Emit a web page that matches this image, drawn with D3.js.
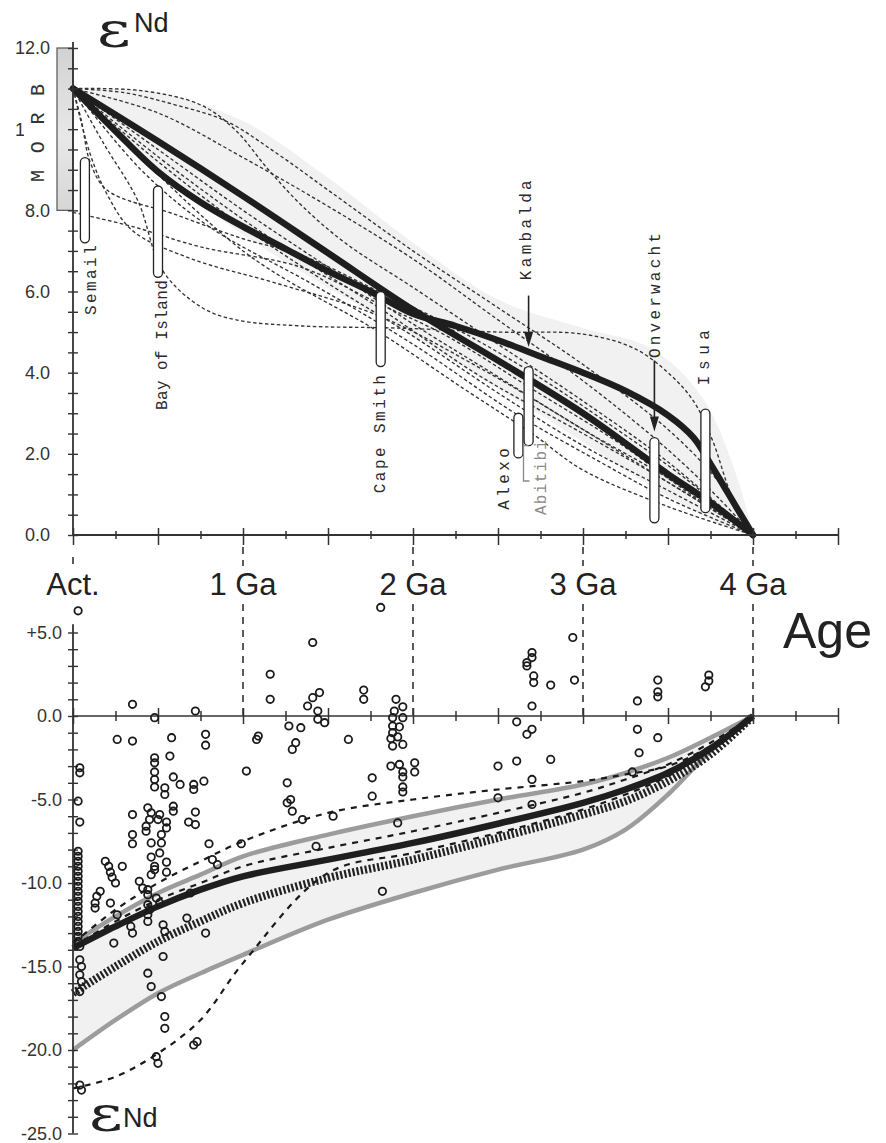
<!DOCTYPE html>
<html>
<head>
<meta charset="utf-8">
<script src="https://cdn.jsdelivr.net/npm/d3@7"></script>
<style>
    body { margin: 0; background: #fff; }
    svg { display: block; }
</style>
</head>
<body>
<script>
(function(){
    // ---- data: age in Ga, epsilon Nd ----
    var ageTicks = d3.range(0, 19).map(function(i){ return i * 0.25; });
    var ageLabels = ["Act.", "1 Ga", "2 Ga", "3 Ga", "4 Ga"];
    var ageLabelAges = [0, 1, 2, 3, 4];
    var topTickLabels = [0, 2, 4, 6, 8, 10, 12];
    var bottomTickLabels = [5, 0, -5, -10, -15, -20, -25];

    // upper panel: depleted mantle evolution curves
    var mantleLinear = [[0,11],[0.5,9.7],[1,8.35],[1.5,6.95],[2,5.55],[2.5,4.3],[3,3.0],[3.5,1.5],[3.75,0.8],[4,0]];
    var mantleCurved = [[0,11],[0.25,9.95],[0.5,8.95],[0.75,8.2],[1,7.6],[1.25,7.05],[1.5,6.5],[1.75,6.0],[2,5.45],[2.25,5.15],[2.5,4.8],[2.75,4.4],[3,4.0],[3.25,3.55],[3.5,2.95],[3.65,2.4],[3.75,1.75],[3.9,0.7],[4,0]];
    var modelCurves = [
        [[0,11],[0.4,10.95],[0.75,10.6],[0.95,10.0],[1.15,9.0],[1.35,8.1],[1.6,7.2],[2,6.1],[2.5,4.7],[3,3.3],[3.5,1.8],[4,0]],
        [[0,11],[0.5,10.4],[1,9.3],[1.5,8.1],[2,6.8],[2.5,5.3],[3,3.8],[3.5,2.1],[3.8,0.9],[4,0]],
        [[0,11],[0.3,10.9],[0.6,10.6],[0.9,10.2],[1.2,9.4],[1.5,8.5],[2,7.0],[2.5,5.6],[3,4.2],[3.5,2.6],[3.8,1.3],[4,0]],
        [[0,11],[0.18,9.65],[0.38,8.25],[0.53,6.5],[0.76,5.6],[0.96,5.3],[1.35,5.15],[1.9,5.1],[2.5,5.0],[3.0,4.95],[3.3,4.6],[3.5,4.0],[3.65,3.3],[3.76,2.35],[3.88,0.9],[4,0]],
        [[0,11],[0.05,10.2],[0.1,9.2],[0.2,8.5],[0.6,7.9],[1,7.3],[1.34,6.9],[1.8,6.0],[2.2,5.2],[2.7,4.0],[3.2,2.6],[3.6,1.4],[4,0]],
        [[0,7.95],[0.35,7.6],[0.75,7.1],[1.34,6.6],[1.8,5.7],[2.2,4.9],[2.7,3.6],[3.2,2.3],[3.6,1.1],[4,0]],
        [[0,11],[0.1,9.4],[0.2,8.4],[0.35,7.5],[0.7,6.8],[1.2,6.2],[1.8,5.4],[2.4,4.1],[3,2.6],[3.5,1.3],[4,0]],
        [[0,11],[0.5,9.5],[1,8.0],[1.5,6.6],[2,5.2],[2.5,3.9],[3,2.6],[3.5,1.4],[4,0]],
        [[0,11],[0.5,9.2],[1,7.6],[1.5,6.2],[2,4.9],[2.5,3.5],[3,2.2],[3.5,1.1],[4,0]],
        [[0,11],[0.6,9.0],[1.2,7.2],[1.8,5.6],[2.4,3.9],[3,2.5],[3.5,1.3],[4,0]],
        [[0,11],[0.4,9.0],[0.8,7.6],[1.4,6.2],[2,4.7],[2.6,3.0],[3.1,1.8],[3.5,0.9],[4,0]],
        [[0,11],[1,7.0],[1.8,5.0],[2.3,3.6],[2.7,2.5],[3.0,1.6],[3.5,0.7],[4,0]]
    ];
    var topShadeAges  = [0, 0.5, 1, 1.5, 2, 2.5, 3, 3.4, 3.7, 3.9, 4];
    var topShadeHigh  = [11, 10.9, 10.2, 8.8, 7.2, 5.8, 5.1, 4.6, 3.4, 1.5, 0];
    var topShadeLow   = [11, 9.0, 7.4, 6.1, 4.9, 3.6, 2.3, 1.2, 0.5, 0.1, 0];

    // komatiite / basalt localities
    var sites    = ["Semail", "Bay of Island", "Cape Smith", "Kambalda", "Alexo", "Onverwacht", "Isua"];
    var siteAges = [0.07, 0.5, 1.81, 2.68, 2.62, 3.42, 3.72];
    var siteMin  = [7.2, 6.35, 4.15, 2.2, 1.9, 0.3, 0.55];
    var siteMax  = [9.3, 8.6, 6.0, 4.15, 3.0, 2.4, 3.1];
    var labelNames = ["Semail", "Bay of Island", "Cape Smith", "Kambalda", "Alexo", "Abitibi", "Onverwacht", "Isua"];
    var labelAges  = [0.11, 0.53, 1.81, 2.67, 2.54, 2.76, 3.43, 3.72];
    var labelFrom  = [5.42, 3.08, 1.03, 6.28, 0.62, 0.49, 4.36, 3.69];
    var labelTo    = [7.14, 6.28, 3.94, 8.74, 2.14, 2.34, 7.44, 5.05];
    var arrowAges  = [2.68, 3.42];
    var arrowFrom  = [5.9, 4.3];
    var arrowTo    = [4.63, 2.55];
    var morbRange  = [8, 12];

    // lower panel: crustal evolution curves
    var crustAges    = [0, 0.25, 0.5, 0.75, 1, 1.5, 2, 2.5, 3, 3.25, 3.5, 3.75, 4];
    var crustMean    = [-13.9, -12.6, -11.4, -10.4, -9.6, -8.6, -7.6, -6.45, -5.2, -4.4, -3.4, -1.95, 0];
    var crustHatched = [-16.6, -15.0, -13.5, -12.3, -11.2, -9.7, -8.6, -7.3, -5.9, -5.1, -3.9, -2.3, 0];
    var crustHigh    = [-13.6, -12.0, -10.6, -9.5, -8.4, -7.1, -6.0, -5.0, -4.1, -3.4, -2.5, -1.3, 0];
    var crustLow     = [-20.0, -18.2, -16.6, -15.4, -14.3, -12.2, -10.6, -9.2, -8.0, -6.8, -4.7, -2.1, 0];
    var dashHigh     = [-13.6, -11.6, -10.0, -8.7, -7.5, -5.8, -5.0, -4.4, -3.9, -3.5, -3.0, -1.8, 0];
    var dashMid      = [-13.8, -12.3, -11.0, -10.0, -9.0, -7.9, -6.9, -5.8, -4.6, -3.8, -2.9, -1.6, 0];
    var dashLow      = [-22.3, -21.6, -20.2, -18.2, -14.8, -9.4, -8.2, -7.0, -5.6, -4.7, -3.6, -2.0, 0];

    var samples = [
        [0.03,6.3],[1.81,6.5],[1.41,4.4],[1.16,2.5],[1.16,1.0],[0.35,0.7],[0.48,-0.1],[0.72,0.3],
        [1.41,1.1],[1.45,1.4],[1.38,0.6],[1.44,0.3],[1.44,-0.2],[1.48,-0.4],[1.71,1.55],[1.71,1.0],
        [1.27,-0.6],[1.34,-0.7],[1.09,-1.2],[1.08,-1.4],[1.31,-1.6],[1.29,-2.0],[1.62,-1.4],[1.02,-3.3],
        [1.26,-4.0],[1.28,-5.0],[1.26,-5.2],[1.29,-5.7],[1.35,-6.2],[1.53,-6.0],[1.43,-7.8],[1.76,-3.7],[1.76,-4.8],[1.91,-6.4],
        [1.9,1.0],[1.94,0.55],[1.89,0.3],[1.94,-0.1],[1.88,-0.1],[1.92,-0.65],[1.88,-0.6],[1.88,-1.0],[1.91,-1.25],[1.87,-1.35],
        [1.94,-1.7],[1.88,-1.8],[1.87,-3.0],[1.92,-2.9],[1.94,-3.35],[1.94,-3.65],[1.94,-4.25],[1.94,-4.55],[2.01,-2.8],[2.01,-3.35],
        [0.26,-1.4],[0.35,-1.5],[0.58,-1.3],[0.78,-1.1],[0.78,-1.75],[0.57,-2.4],[0.48,-2.5],[0.48,-2.8],[0.48,-3.35],[0.48,-3.8],
        [0.48,-4.25],[0.04,-3.1],[0.04,-3.4],[0.59,-3.65],[0.63,-4.1],[0.54,-4.3],[0.54,-4.7],[0.71,-4.1],[0.71,-4.4],[0.77,-3.9],
        [0.03,-5.1],[0.04,-6.35],[0.59,-5.4],[0.59,-5.7],[0.72,-5.75],[0.35,-5.9],[0.44,-5.5],[0.46,-5.8],[0.51,-5.9],[0.45,-6.2],
        [0.43,-6.6],[0.5,-6.2],[0.55,-6.35],[0.55,-6.7],[0.68,-6.35],[0.72,-6.5],[0.43,-6.9],[0.52,-7.1],[0.52,-7.6],[0.35,-7.1],
        [0.35,-7.65],[0.46,-7.6],[0.51,-8.2],[0.46,-8.45],[0.48,-9.0],[0.46,-9.5],[0.55,-8.75],[0.55,-9.35],[0.8,-7.65],[0.99,-7.65],
        [0.03,-8.1],[0.03,-8.4],[0.03,-8.7],[0.03,-9.0],[0.03,-9.3],[0.03,-9.6],[0.03,-9.9],[0.03,-10.2],[0.03,-10.5],[0.03,-10.8],
        [0.03,-11.1],[0.03,-11.4],[0.03,-11.7],[0.03,-12.0],[0.03,-12.3],[0.03,-12.6],[0.03,-12.9],[0.03,-13.2],[0.03,-13.5],[0.04,-13.8],
        [0.04,-14.6],[0.05,-15.0],[0.04,-15.5],[0.05,-15.9],[0.04,-16.5],[0.04,-22.1],[0.05,-22.4],
        [0.19,-8.7],[0.21,-9.0],[0.22,-9.35],[0.23,-9.65],[0.25,-10.0],[0.29,-9.0],[0.82,-8.6],[0.85,-8.9],[0.39,-9.9],[0.41,-10.3],
        [0.14,-10.8],[0.16,-10.5],[0.13,-11.2],[0.13,-11.5],[0.22,-11.2],[0.26,-11.9],[0.44,-10.4],[0.44,-10.7],[0.44,-11.3],[0.45,-11.6],
        [0.44,-11.9],[0.44,-12.3],[0.49,-10.9],[0.51,-11.2],[0.48,-9.2],[0.34,-12.6],[0.35,-13.0],[0.24,-13.6],[0.69,-10.6],[0.53,-12.5],
        [0.54,-12.9],[0.67,-12.1],[0.78,-13.0],[0.53,-14.4],[0.44,-15.4],[0.46,-16.2],[0.52,-16.8],[0.54,-18.0],[0.54,-18.7],[0.49,-20.4],
        [0.5,-20.8],[0.71,-19.7],[0.73,-19.5],[1.82,-10.5],
        [2.94,4.7],[2.7,3.8],[2.7,3.5],[2.67,3.2],[2.67,3.0],[2.71,2.4],[2.71,2.0],[2.81,1.85],[2.95,2.15],[2.7,0.6],
        [2.61,-0.35],[2.7,-0.8],[2.67,-1.1],[2.5,-3.0],[2.61,-2.7],[2.81,-2.6],[2.5,-4.9],[2.7,-3.8],[2.7,-5.3],
        [3.32,0.9],[3.44,2.15],[3.44,1.45],[3.44,1.15],[3.32,-0.8],[3.44,-1.3],[3.33,-2.2],[3.29,-3.35],
        [3.74,2.45],[3.74,2.1],[3.72,1.75]
    ];

    var width = 886, height = 1143;
    var sans = "'Liberation Sans', Arial, sans-serif",
        mono = "'Liberation Mono', 'Courier New', monospace",
        serif = "'DejaVu Serif', 'Liberation Serif', serif";

    var svg = d3.select("body").append("svg")
        .attr("width", width)
        .attr("height", height);

    svg.append("rect").attr("width", width).attr("height", height).attr("fill", "#fff");

    var x = d3.scaleLinear().domain([0, 4.5]).range([73, 838]);
    var yTop = d3.scaleLinear().domain([0, 12]).range([535, 48]);
    var yBot = d3.scaleLinear().domain([0, -25]).range([716, 1133.5]);

    drawTop();
    drawBottom();
    drawAgeLabels();

    function zip(ages, vals){
        return ages.map(function(a, i){ return [a, vals[i]]; });
    }

    function drawTop(){
        var g = svg.append("g");

        var line = d3.line()
            .x(function(d){ return x(d[0]); })
            .y(function(d){ return yTop(d[1]); })
            .curve(d3.curveCatmullRom.alpha(0.5));

        // pale envelope
        var band = d3.area()
            .x(function(d){ return x(d[0]); })
            .y0(function(d){ return yTop(d[1]); })
            .y1(function(d){ return yTop(d[2]); })
            .curve(d3.curveCatmullRom.alpha(0.5));
        g.append("path")
            .datum(topShadeAges.map(function(a, i){ return [a, topShadeLow[i], topShadeHigh[i]]; }))
            .attr("d", band)
            .attr("fill", "#f1f1f1");

        // MORB range
        var grad = svg.append("defs").append("linearGradient")
            .attr("id", "morbGrad").attr("x1", 0).attr("x2", 0).attr("y1", 0).attr("y2", 1);
        grad.append("stop").attr("offset", "0%").attr("stop-color", "#d2d2d2");
        grad.append("stop").attr("offset", "55%").attr("stop-color", "#e8e8e8");
        grad.append("stop").attr("offset", "100%").attr("stop-color", "#d6d6d6");

        g.append("rect")
            .attr("x", x(0) - 16)
            .attr("y", yTop(morbRange[1]))
            .attr("width", 16)
            .attr("height", yTop(morbRange[0]) - yTop(morbRange[1]))
            .attr("fill", "url(#morbGrad)")
            .attr("stroke", "#555")
            .attr("stroke-width", 1.2);

        // model curves
        g.selectAll(".model")
            .data(modelCurves)
            .enter()
            .append("path")
            .attr("class", "model")
            .attr("d", line)
            .attr("fill", "none")
            .attr("stroke", "#333")
            .attr("stroke-width", 1.35)
            .attr("stroke-dasharray", "3.5,2.5");

        [mantleLinear, mantleCurved].forEach(function(c){
            g.append("path")
                .datum(c)
                .attr("d", line)
                .attr("fill", "none")
                .attr("stroke", "#1e1e1e")
                .attr("stroke-width", 6.5)
                .attr("stroke-linecap", "round");
        });

        // axes
        var xAxis = d3.axisBottom(x)
            .tickValues(ageTicks)
            .tickFormat("")
            .tickSizeOuter(0);
        var gx = g.append("g")
            .attr("transform", "translate(0," + yTop(0) + ")")
            .call(xAxis);
        gx.select(".domain").remove();
        gx.selectAll(".tick line")
            .attr("stroke", "#333")
            .attr("stroke-width", 1.5)
            .attr("y1", function(d, i){ return i % 2 === 0 ? -7 : -4; })
            .attr("y2", function(d, i){ return i % 2 === 0 ? 10 : 4; });
        g.append("line")
            .attr("x1", x(0)).attr("x2", x(4.5))
            .attr("y1", yTop(0)).attr("y2", yTop(0))
            .attr("stroke", "#333").attr("stroke-width", 1.8);

        var yAxis = d3.axisLeft(yTop)
            .tickValues(d3.range(0, 25).map(function(i){ return i * 0.5; }))
            .tickFormat("")
            .tickSizeOuter(0);
        var gy = g.append("g")
            .attr("transform", "translate(" + x(0) + ",0)")
            .call(yAxis);
        gy.select(".domain").remove();
        gy.selectAll(".tick line")
            .attr("stroke", "#333")
            .attr("stroke-width", 1.4)
            .attr("x1", -5).attr("x2", 5);
        g.append("line")
            .attr("x1", x(0)).attr("x2", x(0))
            .attr("y1", yTop(0)).attr("y2", yTop(12) - 6)
            .attr("stroke", "#333").attr("stroke-width", 1.8);

        g.selectAll(".ylab")
            .data(topTickLabels)
            .enter()
            .append("text")
            .attr("x", x(0) - 23)
            .attr("y", function(d){ return yTop(d); })
            .attr("dy", "0.36em")
            .attr("text-anchor", "end")
            .attr("font-family", sans)
            .attr("font-size", 18)
            .attr("fill", "#333")
            .text(function(d){ return d.toFixed(1); });

        // MORB label (covers most of the 10.0 label)
        g.append("rect")
            .attr("x", 24).attr("y", 121)
            .attr("width", 28).attr("height", 72)
            .attr("fill", "#fff");
        g.append("text")
            .attr("transform", "translate(38," + yTop(8.7) + ") rotate(-90)")
            .attr("dominant-baseline", "central")
            .attr("font-family", mono)
            .attr("font-size", 20)
            .attr("fill", "#333")
            .attr("textLength", 98)
            .attr("lengthAdjust", "spacing")
            .text("M O R B");

        // locality bars
        g.selectAll(".site")
            .data(sites)
            .enter()
            .append("rect")
            .attr("class", "site")
            .attr("x", function(d, i){ return x(siteAges[i]) - 4.5; })
            .attr("y", function(d, i){ return yTop(siteMax[i]); })
            .attr("width", 9)
            .attr("height", function(d, i){ return yTop(siteMin[i]) - yTop(siteMax[i]); })
            .attr("rx", 4.5)
            .attr("fill", "#fff")
            .attr("stroke", "#222")
            .attr("stroke-width", 1.3);

        // Abitibi bracket
        var bx = x(2.65);
        g.append("path")
            .attr("d", "M" + (bx + 5) + "," + yTop(2.2) + "H" + bx + "V" + yTop(1.33) + "H" + (bx + 6))
            .attr("fill", "none")
            .attr("stroke", "#888")
            .attr("stroke-width", 1.3);

        g.selectAll(".siteLabel")
            .data(labelNames)
            .enter()
            .append("text")
            .attr("class", "siteLabel")
            .attr("transform", function(d, i){
                return "translate(" + x(labelAges[i]) + "," + yTop(labelFrom[i]) + ") rotate(-90)";
            })
            .attr("dominant-baseline", "central")
            .attr("font-family", mono)
            .attr("font-size", 16)
            .attr("fill", function(d){ return d === "Abitibi" ? "#8a8a8a" : "#2a2a2a"; })
            .attr("textLength", function(d, i){ return yTop(labelFrom[i]) - yTop(labelTo[i]); })
            .attr("lengthAdjust", "spacing")
            .text(function(d){ return d; });

        // arrows
        arrowAges.forEach(function(a, i){
            var ax = x(a), y0 = yTop(arrowFrom[i]), y1 = yTop(arrowTo[i]);
            g.append("line")
                .attr("x1", ax).attr("x2", ax)
                .attr("y1", y0).attr("y2", y1 - 8)
                .attr("stroke", "#222").attr("stroke-width", 1.6);
            g.append("path")
                .attr("d", "M" + ax + "," + y1 + "L" + (ax - 4.5) + "," + (y1 - 15) + "L" + (ax + 4.5) + "," + (y1 - 15) + "Z")
                .attr("fill", "#222");
        });

        // epsilon Nd title
        drawEps(g, 97, 47, 134, 32);
    }

    function drawEps(g, ex, ey, nx, ny){
        g.append("text")
            .attr("transform", "translate(" + ex + "," + ey + ") scale(1.3,1)")
            .attr("font-family", serif)
            .attr("font-size", 50)
            .attr("fill", "#222")
            .text("\u03b5");
        g.append("text")
            .attr("x", nx).attr("y", ny)
            .attr("font-family", sans)
            .attr("font-size", 27)
            .attr("fill", "#222")
            .text("Nd");
    }

    function drawBottom(){
        var g = svg.append("g");

        var line = d3.line()
            .x(function(d){ return x(d[0]); })
            .y(function(d){ return yBot(d[1]); })
            .curve(d3.curveCatmullRom.alpha(0.5));

        var band = d3.area()
            .x(function(d){ return x(d[0]); })
            .y0(function(d){ return yBot(d[1]); })
            .y1(function(d){ return yBot(d[2]); })
            .curve(d3.curveCatmullRom.alpha(0.5));

        g.append("path")
            .datum(crustAges.map(function(a, i){ return [a, crustLow[i], crustHigh[i]]; }))
            .attr("d", band)
            .attr("fill", "#f1f1f1");

        [crustHigh, crustLow].forEach(function(c){
            g.append("path")
                .datum(zip(crustAges, c))
                .attr("d", line)
                .attr("fill", "none")
                .attr("stroke", "#9c9c9c")
                .attr("stroke-width", 4.5);
        });

        [dashHigh, dashMid, dashLow].forEach(function(c){
            g.append("path")
                .datum(zip(crustAges, c))
                .attr("d", line)
                .attr("fill", "none")
                .attr("stroke", "#1a1a1a")
                .attr("stroke-width", 2.2)
                .attr("stroke-dasharray", "6,6");
        });

        g.append("path")
            .datum(zip(crustAges, crustHatched))
            .attr("d", line)
            .attr("fill", "none")
            .attr("stroke", "#222")
            .attr("stroke-width", 8)
            .attr("stroke-dasharray", "2.2,2");

        g.append("path")
            .datum(zip(crustAges, crustMean))
            .attr("d", line)
            .attr("fill", "none")
            .attr("stroke", "#1e1e1e")
            .attr("stroke-width", 6.5);

        // axes
        var xAxis = d3.axisBottom(x)
            .tickValues(ageTicks)
            .tickFormat("")
            .tickSizeOuter(0);
        var gx = g.append("g")
            .attr("transform", "translate(0," + yBot(0) + ")")
            .call(xAxis);
        gx.select(".domain").remove();
        gx.selectAll(".tick line")
            .attr("stroke", "#333")
            .attr("stroke-width", 1.5)
            .attr("y1", function(d, i){ return i % 2 === 0 ? -8 : -5; })
            .attr("y2", function(d, i){ return i % 2 === 0 ? 8 : 5; });
        g.append("line")
            .attr("x1", x(0)).attr("x2", x(4.5))
            .attr("y1", yBot(0)).attr("y2", yBot(0))
            .attr("stroke", "#333").attr("stroke-width", 1.6);

        var yAxis = d3.axisLeft(yBot)
            .tickValues(d3.range(-25, 6))
            .tickFormat("")
            .tickSizeOuter(0);
        var gy = g.append("g")
            .attr("transform", "translate(" + x(0) + ",0)")
            .call(yAxis);
        gy.select(".domain").remove();
        gy.selectAll(".tick line")
            .attr("stroke", "#333")
            .attr("stroke-width", 1.4)
            .attr("x1", -5).attr("x2", 5);
        g.append("line")
            .attr("x1", x(0)).attr("x2", x(0))
            .attr("y1", yBot(-25)).attr("y2", yBot(5.5))
            .attr("stroke", "#333").attr("stroke-width", 1.8);

        g.selectAll(".ylab")
            .data(bottomTickLabels)
            .enter()
            .append("text")
            .attr("x", x(0) - 11)
            .attr("y", function(d){ return yBot(d); })
            .attr("dy", "0.36em")
            .attr("text-anchor", "end")
            .attr("font-family", sans)
            .attr("font-size", 18)
            .attr("fill", "#333")
            .text(function(d){ return (d > 0 ? "+" : "") + d.toFixed(1); });

        // samples
        g.selectAll(".sample")
            .data(samples)
            .enter()
            .append("circle")
            .attr("class", "sample")
            .attr("cx", function(d){ return x(d[0]); })
            .attr("cy", function(d){ return yBot(d[1]); })
            .attr("r", 3.7)
            .attr("fill", "none")
            .attr("stroke", "#1a1a1a")
            .attr("stroke-width", 1.8);

        drawEps(g, 89, 1131, 123, 1127);

        g.append("text")
            .attr("x", 783).attr("y", 648)
            .attr("font-family", sans)
            .attr("font-size", 50)
            .attr("fill", "#222")
            .text("Age");
    }

    function drawAgeLabels(){
        var g = svg.append("g");

        g.selectAll(".ageLab")
            .data(ageLabels)
            .enter()
            .append("text")
            .attr("x", function(d, i){ return x(ageLabelAges[i]); })
            .attr("y", 595)
            .attr("text-anchor", "middle")
            .attr("font-family", sans)
            .attr("font-size", 31)
            .attr("fill", "#222")
            .text(function(d){ return d; });

        // dashed guides between the two panels
        ageLabelAges.forEach(function(a){
            var segs = a === 0 ? [[557, 567]] : [[yTop(0) + 12, 566], [604, yBot(0)]];
            segs.forEach(function(s){
                g.append("line")
                    .attr("x1", x(a)).attr("x2", x(a))
                    .attr("y1", s[0]).attr("y2", s[1])
                    .attr("stroke", "#333")
                    .attr("stroke-width", 1.6)
                    .attr("stroke-dasharray", "7,6");
            });
        });
    }
})();
</script>
</body>
</html>
